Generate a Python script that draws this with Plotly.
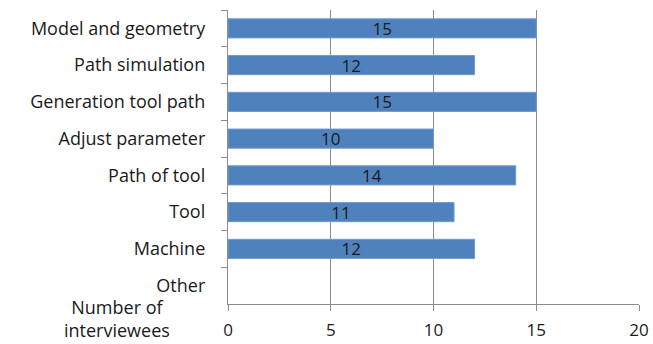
import plotly.graph_objects as go

# Survey answers: how many interviewees named each topic
categories = ["Model and geometry", "Path simulation", "Generation tool path",
              "Adjust parameter", "Path of tool", "Tool", "Machine", "Other"]
counts = [15, 12, 15, 10, 14, 11, 12, 0]
labels = ["15", "12", "15", "10", "14", "11", "12", ""]
x_ticks = [0, 5, 10, 15, 20]
caption = "Number of<br>interviewees"

FONT = "Open Sans"
SIZE = 18
GRID = "#8c8c8c"
INK = "#1a1a1a"

# No outline on an empty bar, so "Other" stays blank
edge_widths = [1 if c > 0 else 0 for c in counts]

fig = go.Figure(go.Bar(
    y=categories,
    x=counts,
    orientation="h",
    width=0.52,
    marker=dict(color="#4f81bd", line=dict(color="#6e9bd3", width=edge_widths)),
    text=labels,
    textposition="inside",
    insidetextanchor="middle",
    textangle=0,
    textfont=dict(family=FONT, size=SIZE - 1, color=INK),
    cliponaxis=False,
))

fig.update_layout(
    width=653, height=344,
    margin=dict(l=228, r=14, t=10, b=40, autoexpand=False),
    paper_bgcolor="white", plot_bgcolor="white",
    showlegend=False,
    font=dict(family=FONT, size=SIZE, color=INK),
    uniformtext=dict(minsize=SIZE - 1, mode="show"),
)

fig.update_xaxes(
    range=[0, 20], tickvals=x_ticks, ticktext=[str(v) for v in x_ticks],
    showgrid=True, gridcolor=GRID, gridwidth=1.3,
    showline=True, linecolor=GRID, linewidth=1.3,
    ticks="outside", ticklen=6, tickcolor=GRID, tickwidth=1.3,
    ticklabelstandoff=4, zeroline=False, automargin=False,
    tickfont=dict(family=FONT, size=SIZE - 1, color=INK),
)

fig.update_yaxes(
    categoryorder="array", categoryarray=categories, autorange="reversed",
    showgrid=False, showline=True, linecolor=GRID, linewidth=1.3,
    ticks="outside", tickson="boundaries", ticklen=6, tickcolor=GRID, tickwidth=1.3,
    ticklabelstandoff=18, automargin=False,
    tickfont=dict(family=FONT, size=SIZE, color=INK),
)

# Value-axis caption sits beside the x tick labels, under the category names
fig.add_annotation(
    text=caption, xref="paper", yref="paper",
    x=-0.27, y=-0.051, xanchor="center", yanchor="middle", showarrow=False,
    font=dict(family=FONT, size=SIZE, color=INK), align="center",
)

fig.write_html("out.html")
